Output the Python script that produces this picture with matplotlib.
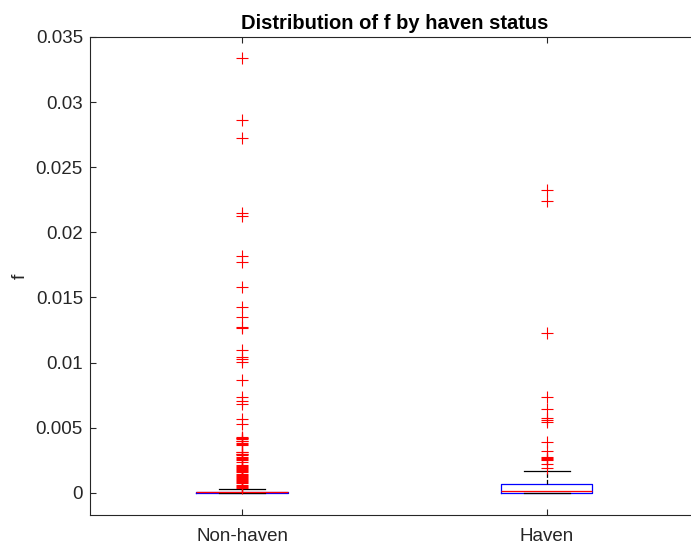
import matplotlib.pyplot as plt

plt.rcParams['font.family'] = ['Liberation Sans', 'DejaVu Sans']

groups = ['Non-haven', 'Haven']

# box statistics
q1 = [0.0, 0.0]
med = [0.00003, 0.00018]
q3 = [0.0001, 0.00069]
whislo = [0.0, 0.0]
whishi = [0.00033, 0.00171]

out_nonhaven = [0.03337, 0.02863, 0.02722, 0.02147, 0.02129, 0.01819, 0.01776,
                0.01584, 0.01430, 0.01349, 0.01277, 0.01264, 0.01098, 0.01046,
                0.01028, 0.01008, 0.00870, 0.00739, 0.00708, 0.00683, 0.00566,
                0.00527, 0.00432, 0.00425, 0.00418, 0.00410, 0.00402, 0.00395,
                0.00385, 0.00376, 0.00368, 0.00317, 0.00310, 0.00302, 0.00295,
                0.00288, 0.00275, 0.00266, 0.00258, 0.00249, 0.00240, 0.00215,
                0.00207, 0.00199, 0.00190, 0.00182, 0.00174, 0.00165, 0.00157,
                0.00148, 0.00140, 0.00131, 0.00123, 0.00114, 0.00106, 0.00097,
                0.00089, 0.00080, 0.00072, 0.00063, 0.00055, 0.00047, 0.00040]
out_haven = [0.02326, 0.02241, 0.01226, 0.00739, 0.00642, 0.00578, 0.00560,
             0.00543, 0.00394, 0.00322, 0.00279, 0.00270, 0.00262, 0.00253,
             0.00223, 0.00190]
outliers = [out_nonhaven, out_haven]

stats = []
for i, g in enumerate(groups):
    stats.append({'label': g, 'q1': q1[i], 'med': med[i], 'q3': q3[i],
                  'whislo': whislo[i], 'whishi': whishi[i],
                  'fliers': outliers[i]})

fig = plt.figure(figsize=(6.91, 5.44), dpi=100)
ax = fig.add_axes([0.130, 0.0533, 0.8816, 0.8787])

ax.bxp(stats, widths=0.3,
       boxprops=dict(color='#0000ff', linewidth=0.9),
       medianprops=dict(color='#ff0000', linewidth=0.9),
       whiskerprops=dict(color='black', linewidth=0.9, linestyle='--'),
       capprops=dict(color='black', linewidth=0.9),
       flierprops=dict(marker='+', color='#ff0000', markeredgecolor='#ff0000',
                       markersize=9, markeredgewidth=0.8))

ax.set_xlim(0.5, 2.5)
ax.set_ylim(-0.0017, 0.035)
ax.set_yticks([0, 0.005, 0.01, 0.015, 0.02, 0.025, 0.03, 0.035])
ax.set_yticklabels(['0', '0.005', '0.01', '0.015', '0.02', '0.025', '0.03', '0.035'])
ax.tick_params(direction='in', labelsize=13.5, colors='#262626', length=4,
               top=True, right=True)
ax.tick_params(axis='x', pad=9)
ax.tick_params(axis='y', pad=5)
for s in ax.spines.values():
    s.set_color('#262626')
    s.set_linewidth(0.8)
ax.set_ylabel('f', fontsize=14, color='#262626', labelpad=5)
ax.set_title('Distribution of f by haven status', fontsize=14.5,
             fontweight='bold', pad=6)

fig.savefig('out.png', dpi=100)
